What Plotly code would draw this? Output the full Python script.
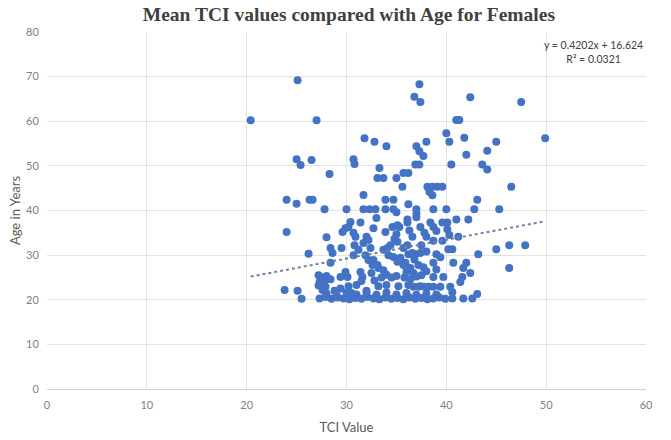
import plotly.graph_objects as go

# (TCI, Age) readings
points = [
    (20.4, 60.2), (25.1, 69.2), (27.0, 60.2),
    (37.3, 68.3), (36.8, 65.5), (37.4, 64.3), (42.4, 65.4), (47.5, 64.3),
    (41.0, 60.3), (41.3, 60.3),
    (31.8, 56.2), (32.8, 55.4), (34.0, 54.4),
    (37.0, 54.4), (37.3, 53.3), (37.7, 52.2), (38.0, 55.4),
    (40.0, 57.3), (40.3, 55.4), (41.8, 56.3), (45.0, 55.4), (44.1, 53.4), (42.0, 52.5), (49.9, 56.2),
    (25.0, 51.5), (25.4, 50.2), (26.5, 51.3), (28.3, 48.2), (30.7, 51.5), (30.8, 50.4),
    (36.9, 50.3), (37.3, 50.3), (40.5, 50.3), (43.6, 50.3), (44.1, 49.2), (33.3, 49.5),
    (35.7, 48.4), (36.2, 48.4), (33.1, 47.3), (33.7, 47.3), (35.0, 47.3),
    (35.6, 45.3), (38.1, 45.3), (38.6, 45.3), (39.1, 45.3), (39.6, 45.3), (38.3, 44.2), (38.6, 43.4), (46.5, 45.3),
    (31.7, 43.5), (43.1, 42.4), (36.2, 41.4), (33.9, 42.4), (34.7, 42.4),
    (24.0, 42.4), (25.0, 41.5), (26.3, 42.4), (26.6, 42.4), (27.8, 40.3), (30.0, 40.3),
    (31.7, 40.3), (32.3, 40.3), (32.9, 40.3), (33.9, 40.3), (34.7, 40.3), (35.0, 39.6),
    (37.0, 40.3), (37.0, 39.4), (37.0, 38.5), (38.7, 40.3), (40.0, 40.3), (42.8, 40.3), (45.3, 40.3),
    (36.1, 38.0), (36.1, 37.3), (38.4, 37.3), (38.7, 36.3), (39.6, 37.3), (40.1, 37.3), (41.0, 38.0), (42.2, 38.0),
    (37.4, 36.3), (35.3, 36.3), (40.1, 35.8), (40.3, 34.5), (39.0, 35.4),
    (36.6, 34.1), (38.0, 34.1), (38.7, 33.2), (39.6, 33.2), (41.2, 34.1),
    (36.1, 32.2), (35.7, 31.6), (37.5, 32.2), (40.2, 31.3), (40.6, 31.3), (43.2, 30.2), (45.0, 31.3),
    (46.3, 32.2), (47.9, 32.2), (46.3, 27.1),
    (36.2, 30.2), (36.9, 30.2), (39.0, 30.2), (35.4, 29.4), (35.9, 28.3), (38.7, 28.3), (40.7, 28.3),
    (42.0, 28.3), (41.7, 27.1), (42.4, 26.0), (41.6, 25.1), (41.4, 24.0), (39.7, 25.1), (38.7, 25.1), (36.7, 26.0),
    (24.0, 35.2), (28.0, 34.0), (26.2, 30.3),
    (30.4, 37.4), (30.2, 36.3), (29.9, 36.0), (29.6, 35.2), (30.7, 35.0), (30.9, 34.1), (33.9, 35.2),
    (32.0, 34.1), (32.2, 33.4), (31.7, 32.7), (34.8, 33.6), (35.1, 33.0), (34.4, 32.2), (34.1, 31.6), (33.7, 31.2),
    (36.6, 30.5), (37.4, 30.5), (28.4, 31.6), (28.6, 30.5), (29.5, 31.6), (30.8, 32.2), (31.2, 31.2), (30.7, 30.0),
    (28.4, 28.3), (31.9, 30.0), (32.2, 28.9), (32.6, 27.8), (32.7, 28.9), (33.1, 27.8), (33.2, 27.1),
    (34.2, 30.0), (34.7, 29.6), (35.1, 28.5), (35.7, 27.8), (36.4, 27.1), (37.2, 27.8), (37.7, 27.3),
    (34.6, 36.3), (35.1, 36.7), (36.3, 35.5), (37.8, 35.0), (35.0, 34.7), (38.0, 30.8), (39.4, 29.5),
    (36.8, 29.0), (32.7, 36.0), (31.4, 37.3), (33.0, 38.3), (32.4, 31.6),
    (29.9, 26.2), (30.1, 25.1), (31.4, 26.2), (31.6, 25.1),
    (27.2, 25.5), (27.6, 25.0), (28.0, 25.3), (28.4, 24.6), (27.3, 24.0), (27.8, 24.2), (27.2, 23.2),
    (27.6, 22.2), (27.9, 22.9), (29.4, 25.1),
    (23.8, 22.2), (25.1, 22.0), (25.5, 20.2),
    (33.5, 25.0), (34.0, 25.6), (34.5, 25.0), (35.0, 25.3), (35.8, 25.0), (36.4, 24.6), (37.0, 25.2),
    (32.8, 24.3), (33.2, 23.0), (34.0, 23.3), (35.2, 23.0), (36.2, 23.3), (37.4, 23.0), (38.2, 22.9),
    (38.7, 22.9), (39.4, 22.9), (40.4, 22.9), (40.6, 21.7), (36.7, 22.9), (37.2, 22.9), (37.8, 22.9),
    (31.0, 23.3), (30.2, 23.0), (29.4, 22.5), (28.8, 22.0), (30.5, 21.5), (32.0, 22.0), (31.5, 24.2),
    (32.5, 26.0), (33.7, 26.6), (36.0, 26.2), (38.0, 26.4), (39.0, 26.8), (37.5, 25.5),
    (27.3, 20.3), (27.9, 20.6), (28.5, 20.2), (29.1, 20.5), (29.7, 20.3), (30.3, 20.1), (30.9, 20.4),
    (31.5, 20.2), (32.1, 20.6), (32.7, 20.3), (33.3, 20.1), (33.9, 20.5), (34.5, 20.2), (35.1, 20.4),
    (35.7, 20.1), (36.3, 20.5), (36.9, 20.2), (37.5, 20.4), (38.1, 20.1), (38.7, 20.3), (39.3, 20.5),
    (39.9, 20.2), (40.6, 20.3), (41.7, 20.3), (42.6, 20.3),
    (28.0, 21.4), (29.0, 21.1), (30.0, 21.6), (31.0, 21.2), (32.0, 21.5), (33.0, 21.1), (34.0, 21.6),
    (35.0, 21.2), (36.0, 21.5), (37.0, 21.1), (38.0, 21.4), (39.0, 21.2), (43.1, 21.3),
]
tci = [p[0] for p in points]
age = [p[1] for p in points]

slope = 0.4202
intercept = 16.624
r2 = 0.0321

x_ticks = [0, 10, 20, 30, 40, 50, 60]
y_ticks = [0, 10, 20, 30, 40, 50, 60, 70, 80]

x0, x1 = min(tci), max(tci)

fig = go.Figure()
fig.add_trace(go.Scatter(
    x=tci, y=age, mode="markers",
    marker=dict(size=8, color="#4472C4"),
    showlegend=False,
))
fig.add_trace(go.Scatter(
    x=[x0, x1], y=[slope * x0 + intercept, slope * x1 + intercept],
    mode="lines", line=dict(color="#6F82A3", width=2, dash="dot"),
    showlegend=False,
))

fig.update_layout(
    width=671, height=440,
    margin=dict(l=47, r=25, t=32, b=51),
    paper_bgcolor="white", plot_bgcolor="white",
    title=dict(text="<b>Mean TCI values compared with Age for Females</b>",
               x=0.52, xanchor="center", y=0.968, yanchor="middle",
               font=dict(family="Liberation Serif", size=19.5, color="#404040")),
    font=dict(family="Lato", color="#595959"),
    xaxis=dict(range=[0, 60], tickvals=x_ticks, showgrid=True, gridcolor="#E3E3E3",
               zeroline=False, showline=True, linecolor="#D0D0D0", automargin=False,
               ticks="outside", ticklen=6, tickcolor="rgba(0,0,0,0)",
               tickfont=dict(size=11, color="#7F7F7F"),
               title=dict(text="TCI Value", font=dict(size=13, color="#595959"), standoff=12)),
    yaxis=dict(range=[0, 80], tickvals=y_ticks, showgrid=True, gridcolor="#E3E3E3",
               zeroline=False, showline=False, automargin=False,
               ticks="outside", ticklen=5, tickcolor="rgba(0,0,0,0)",
               tickfont=dict(size=11, color="#7F7F7F"),
               title=dict(text="Age in Years", font=dict(size=13, color="#595959"), standoff=2)),
    annotations=[dict(
        text=f"y = {slope}x + {intercept}<br>R² = {r2}",
        xref="paper", yref="paper", x=0.912, y=0.985, xanchor="center", yanchor="top",
        showarrow=False, align="center", font=dict(family="Lato", size=10.5, color="#404040"),
    )],
)

fig.write_html("out.html", config={"displayModeBar": False},
               post_script="document.body.style.margin='0';document.body.style.overflow='hidden';")
